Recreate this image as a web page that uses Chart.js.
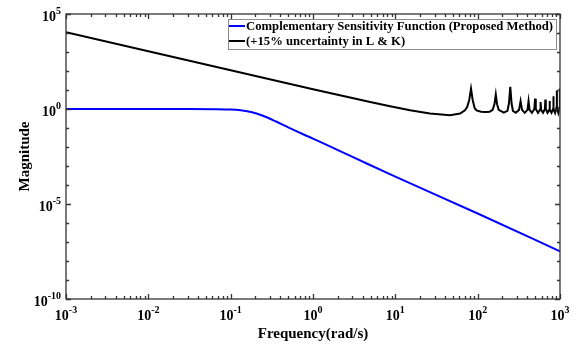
<!DOCTYPE html>
<html lang="en">
<head>
<meta charset="UTF-8">
<title>Complementary Sensitivity Function</title>
<script src="https://cdn.jsdelivr.net/npm/chart.js"></script>
<style>
  html, body { margin: 0; padding: 0; background: #fff; }
</style>
</head>
<body>
<canvas id="myChart" width="577" height="349"></canvas>
<script>
// series labels
const seriesLabels = [
    'Complementary Sensitivity Function (Proposed Method)',
    '(+15% uncertainty in L & K)'
];

// blue curve: T(jw) magnitude
const tfFreq = [0.001, 0.01, 0.0316, 0.063, 0.1, 0.132, 0.182, 0.251, 0.355, 0.5, 0.794, 1, 3.16, 10, 100, 1000];
const tfMag  = [1, 1, 1, 0.977, 0.933, 0.851, 0.676, 0.427, 0.219, 0.107, 0.0427, 0.0275, 0.00275, 2.75e-4, 3.16e-6, 3.24e-8];

// black curve: uncertainty bound (resonances from the delay)
const unFreq = [0.001, 0.01, 0.1, 1, 4.95, 8.65, 15.1, 26.3, 46.3, 61.2, 70, 74.5, 79, 83, 87, 92, 97, 110, 125,
    140, 152, 160, 166, 172, 180, 208,
    230, 240, 249, 258, 268, 290,
    318, 332, 346, 373,
    403, 415, 427, 456,
    488, 498, 508, 540,
    572, 581, 590, 622,
    656, 664, 672, 705,
    740, 747, 754, 788,
    823, 830, 837, 871,
    907, 913, 919, 954,
    990, 996, 1000];
const unMag = [11000, 1100, 110, 11, 2.34, 1.38, 0.85, 0.575, 0.468, 0.575, 0.85, 1.26, 3.0, 11.7, 3.0, 1.1, 0.85, 0.72, 0.7,
    0.72, 0.9, 1.8, 5.75, 1.8, 0.9, 0.65,
    0.8, 2.0, 14.5, 2.0, 0.8, 0.63,
    0.9, 2.6, 0.9, 0.63,
    0.9, 2.6, 0.9, 0.63,
    1.0, 3.5, 1.0, 0.63,
    0.9, 2.35, 0.9, 0.63,
    1.0, 3.1, 1.0, 0.63,
    0.9, 2.6, 0.9, 0.63,
    1.0, 4.7, 1.0, 0.63,
    1.2, 9.5, 1.2, 0.63,
    1.3, 12, 11];

// tick label exponents
const xTickExp = [-3, -2, -1, 0, 1, 2, 3];
const yTickExp = [-10, -5, 0, 5];

const axisColor = '#333333';
const serif = '"Liberation Serif", "Times New Roman", serif';

function toPoints(xs, ys) {
    return xs.map(function (v, i) { return { x: v, y: ys[i] }; });
}

// draw "10" with a raised exponent
function drawPow(ctx, exp, x, baseY, align) {
    ctx.font = 'bold 14px ' + serif;
    let w1 = ctx.measureText('10').width;
    ctx.font = 'bold 10px ' + serif;
    let w2 = ctx.measureText(String(exp)).width;
    let left = align === 'center' ? x - (w1 + w2) / 2 : x - (w1 + w2);
    ctx.textAlign = 'left';
    ctx.textBaseline = 'alphabetic';
    ctx.font = 'bold 14px ' + serif;
    ctx.fillText('10', left, baseY);
    ctx.font = 'bold 10px ' + serif;
    ctx.fillText(String(exp), left + w1, baseY - 7);
}

const framePlugin = {
    id: 'frame',
    afterDraw: function (chart) {
        const ctx = chart.ctx;
        const a = chart.chartArea;
        const xs = chart.scales.x;
        const ys = chart.scales.y;
        ctx.save();
        ctx.strokeStyle = axisColor;
        ctx.fillStyle = '#000';
        ctx.lineWidth = 1.3;
        ctx.strokeRect(a.left, a.top, a.right - a.left, a.bottom - a.top);

        // x ticks, inward on bottom and top
        ctx.beginPath();
        for (let e = -3; e <= 3; e++) {
            for (let m = 1; m <= 9; m++) {
                let v = m * Math.pow(10, e);
                if (v > 1000) break;
                let px = Math.round(xs.getPixelForValue(v)) + 0.5;
                let len = m === 1 ? 5 : 3;
                ctx.moveTo(px, a.bottom); ctx.lineTo(px, a.bottom - len);
                ctx.moveTo(px, a.top); ctx.lineTo(px, a.top + len);
            }
        }
        // y ticks every decade, left and right
        for (let e = -10; e <= 5; e++) {
            let py = Math.round(ys.getPixelForValue(Math.pow(10, e))) + 0.5;
            let len = (e % 5 === 0) ? 5 : 3;
            ctx.moveTo(a.left, py); ctx.lineTo(a.left + len, py);
            ctx.moveTo(a.right, py); ctx.lineTo(a.right - len, py);
        }
        ctx.stroke();

        // tick labels
        xTickExp.forEach(function (e) {
            drawPow(ctx, e, xs.getPixelForValue(Math.pow(10, e)), a.bottom + 21, 'center');
        });
        yTickExp.forEach(function (e) {
            drawPow(ctx, e, a.left - 5, ys.getPixelForValue(Math.pow(10, e)) + 7, 'right');
        });

        // axis titles
        ctx.font = 'bold 15px ' + serif;
        ctx.textAlign = 'center';
        ctx.textBaseline = 'alphabetic';
        ctx.fillText('Frequency(rad/s)', (a.left + a.right) / 2, 338);
        ctx.save();
        ctx.translate(29, (a.top + a.bottom) / 2);
        ctx.rotate(-Math.PI / 2);
        ctx.fillText('Magnitude', 0, 0);
        ctx.restore();

        // legend box
        let bx = 228.5, by = 19.5, bw = 328, bh = 30;
        ctx.fillStyle = '#fff';
        ctx.fillRect(bx, by, bw, bh);
        ctx.strokeStyle = '#8c8c8c';
        ctx.lineWidth = 1;
        ctx.strokeRect(bx, by, bw, bh);
        ctx.font = 'bold 12.7px ' + serif;
        ctx.textAlign = 'left';
        ctx.textBaseline = 'middle';
        chart.data.datasets.forEach(function (ds, i) {
            let ry = 26 + i * 15;
            ctx.strokeStyle = ds.borderColor;
            ctx.lineWidth = 2;
            ctx.beginPath();
            ctx.moveTo(229, ry); ctx.lineTo(245, ry);
            ctx.stroke();
            ctx.fillStyle = '#000';
            ctx.fillText(ds.label, 246, ry + 1);
        });
        ctx.restore();
    }
};

new Chart(document.getElementById('myChart'), {
    type: 'scatter',
    data: {
        datasets: [{
            label: seriesLabels[0],
            data: toPoints(tfFreq, tfMag),
            showLine: true,
            borderColor: '#0000ff',
            borderWidth: 2,
            pointRadius: 0,
            cubicInterpolationMode: 'monotone'
        }, {
            label: seriesLabels[1],
            data: toPoints(unFreq, unMag),
            showLine: true,
            borderColor: '#000000',
            borderWidth: 2,
            pointRadius: 0,
            tension: 0
        }]
    },
    options: {
        responsive: false,
        animation: false,
        layout: { padding: { left: 66, right: 17, top: 14, bottom: 50 } },
        plugins: { legend: { display: false }, tooltip: { enabled: false } },
        scales: {
            x: { type: 'logarithmic', min: 1e-3, max: 1e3, display: false },
            y: { type: 'logarithmic', min: 1e-10, max: 1e5, display: false }
        }
    },
    plugins: [framePlugin]
});
</script>
</body>
</html>
